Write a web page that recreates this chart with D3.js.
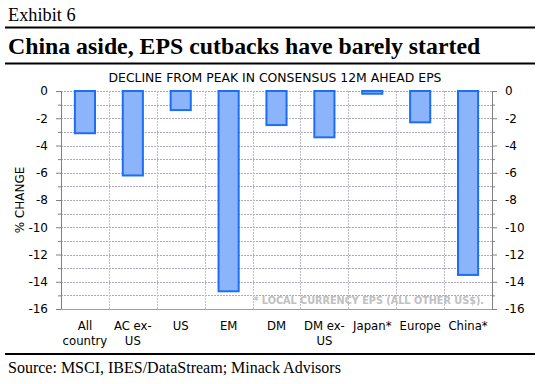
<!DOCTYPE html>
<html><head><meta charset="utf-8">
<script src="https://cdn.jsdelivr.net/npm/d3@7"></script>
<style>body{margin:0;background:#fff}svg{display:block}</style>
</head><body>
<script>
const categories = [["All","country"],["AC ex-","US"],["US"],["EM"],["DM"],["DM ex-","US"],["Japan*"],["Europe"],["China*"]];
const values = [-3.1, -6.2, -1.4, -14.7, -2.5, -3.4, -0.2, -2.3, -13.5];
const yTicks = [0,-2,-4,-6,-8,-10,-12,-14,-16];

(function(){
const W = 540, H = 384;
const svg = d3.select("body").append("svg").attr("width", W).attr("height", H);
const serif = "'Liberation Serif','DejaVu Serif',serif";
const sans = "'DejaVu Sans',Verdana,sans-serif";

svg.append("text").attr("x", 8).attr("y", 21).attr("font-family", serif).attr("font-size", 18.3).text("Exhibit 6");
svg.append("line").attr("x1", 5).attr("x2", 535).attr("y1", 27.5).attr("y2", 27.5).attr("stroke", "#000").attr("stroke-width", 2);
svg.append("text").attr("x", 8).attr("y", 54).attr("font-family", serif).attr("font-weight", "bold").attr("font-size", 23.8).text("China aside, EPS cutbacks have barely started");
svg.append("line").attr("x1", 5).attr("x2", 535).attr("y1", 63.5).attr("y2", 63.5).attr("stroke", "#000").attr("stroke-width", 2);
svg.append("text").attr("x", 275).attr("y", 82).attr("text-anchor", "middle").attr("font-family", sans).attr("font-size", 12.4).text("DECLINE FROM PEAK IN CONSENSUS 12M AHEAD EPS");

const pL = 61, pR = 492, pT = 91, pB = 309;
const x = d3.scaleBand().domain(d3.range(categories.length)).range([pL, pR]).paddingInner(0.58).paddingOuter(0.29);
const y = d3.scaleLinear().domain([0, -16]).range([pT, pB]);
const step = (pR - pL) / categories.length;

const g = svg.append("g");
g.selectAll(".hg").data(d3.range(0, -17, -1)).join("line")
  .attr("x1", pL).attr("x2", pR).attr("y1", d => Math.round(y(d)) + 0.5).attr("y2", d => Math.round(y(d)) + 0.5)
  .attr("stroke", "#b0a8c0").attr("stroke-dasharray", "2,1").attr("stroke-width", 1);
g.selectAll(".vg").data(d3.range(1, categories.length)).join("line")
  .attr("x1", d => Math.round(pL + d * step) + 0.5).attr("x2", d => Math.round(pL + d * step) + 0.5)
  .attr("y1", pT).attr("y2", pB)
  .attr("stroke", "#c0bcc8").attr("stroke-dasharray", "2,1").attr("stroke-width", 1);

svg.append("text").attr("x", 484).attr("y", 304).attr("text-anchor", "end").attr("font-family", sans)
  .attr("font-weight", "bold").attr("font-size", 9.7).attr("fill", "#c0c0c0").text("* LOCAL CURRENCY EPS (ALL OTHER US$).");

svg.selectAll(".bar").data(values).join("rect")
  .attr("x", (d, i) => x(i)).attr("width", x.bandwidth())
  .attr("y", y(0)).attr("height", d => y(d) - y(0))
  .attr("fill", "#8cb4fa").attr("stroke", "#1e6ef5").attr("stroke-width", 2);

function styleAxis(sel) {
  sel.selectAll("path,line").attr("stroke", "#808080");
  sel.selectAll("text").attr("font-family", sans).attr("font-size", 12).attr("fill", "#000");
}
const fmt = d => d === 0 ? "0" : "-" + Math.abs(d);
const yl = svg.append("g").attr("transform", `translate(${pL},0)`)
  .call(d3.axisLeft(y).tickValues(yTicks).tickFormat(fmt).tickSize(5).tickSizeOuter(0).tickPadding(8));
styleAxis(yl);
const ylm = svg.append("g").attr("transform", `translate(${pL},0)`)
  .call(d3.axisLeft(y).tickValues(d3.range(-1, -16, -2)).tickFormat("").tickSize(3).tickSizeOuter(0));
styleAxis(ylm); ylm.select("path").remove();
const yr = svg.append("g").attr("transform", `translate(${pR},0)`)
  .call(d3.axisRight(y).tickValues(yTicks).tickFormat(fmt).tickSize(5).tickSizeOuter(0).tickPadding(8));
styleAxis(yr);
const yrm = svg.append("g").attr("transform", `translate(${pR},0)`)
  .call(d3.axisRight(y).tickValues(d3.range(-1, -16, -2)).tickFormat("").tickSize(3).tickSizeOuter(0));
styleAxis(yrm); yrm.select("path").remove();

svg.append("line").attr("x1", pL).attr("x2", pR).attr("y1", pB + 0.5).attr("y2", pB + 0.5).attr("stroke", "#a0a0a0");

const xl = svg.append("g");
categories.forEach((c, i) => {
  const cx = x(i) + x.bandwidth() / 2;
  const t = xl.append("text").attr("x", cx).attr("y", 330).attr("text-anchor", "middle")
    .attr("font-family", sans).attr("font-size", 11.7);
  c.forEach((s, j) => t.append("tspan").attr("x", cx).attr("dy", j === 0 ? 0 : 14.5).text(s));
});

svg.append("text").attr("transform", `translate(24,${(pT + pB) / 2}) rotate(-90)`).attr("text-anchor", "middle")
  .attr("font-family", sans).attr("font-size", 12).text("% CHANGE");

svg.append("line").attr("x1", 5).attr("x2", 535).attr("y1", 354).attr("y2", 354).attr("stroke", "#000").attr("stroke-width", 2);
svg.append("text").attr("x", 8).attr("y", 373).attr("font-family", serif).attr("font-size", 16).text("Source: MSCI, IBES/DataStream; Minack Advisors");
})();
</script>
</body></html>
